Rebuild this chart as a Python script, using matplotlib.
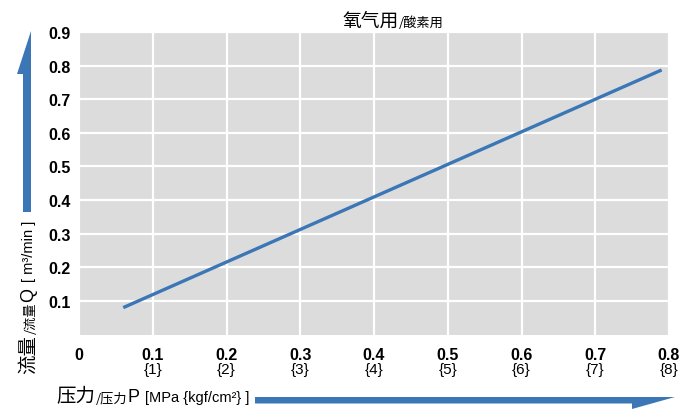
import matplotlib
matplotlib.use("Agg")
import matplotlib.pyplot as plt
from matplotlib.patches import Polygon
from matplotlib import font_manager

# data
pressure = [0.06, 0.79]          # MPa
flow = [0.08, 0.787]             # m3/min
x_ticks = [0, 0.1, 0.2, 0.3, 0.4, 0.5, 0.6, 0.7, 0.8]
x_tick_labels = ["0", "0.1", "0.2", "0.3", "0.4", "0.5", "0.6", "0.7", "0.8"]
kgf_labels = ["", "{1}", "{2}", "{3}", "{4}", "{5}", "{6}", "{7}", "{8}"]
y_ticks = [0.1, 0.2, 0.3, 0.4, 0.5, 0.6, 0.7, 0.8, 0.9]
y_tick_labels = ["0.1", "0.2", "0.3", "0.4", "0.5", "0.6", "0.7", "0.8", "0.9"]

names = {f.name for f in font_manager.fontManager.ttflist}
NARROW = "Liberation Sans Narrow" if "Liberation Sans Narrow" in names else "Liberation Sans"
CJK = ["Noto Sans CJK SC", "DejaVu Sans"]
JP = ["Noto Sans CJK JP", "DejaVu Sans"]
BLUE = "#3b76b6"

W, H = 698, 410
fig = plt.figure(figsize=(W / 100, H / 100), dpi=100)
renderer = fig.canvas.get_renderer()

def fx(px):
    return px / W

def fy(py):
    return 1 - py / H

left, right, top, bottom = 79, 669, 33, 335.5
ax = fig.add_axes([fx(left), fy(bottom), fx(right - left), (bottom - top) / H])
ax.set_facecolor("#dcdcdc")
ax.plot(pressure, flow, color=BLUE, lw=2.4, solid_capstyle="butt")
ax.set_xlim(0, 0.8)
ax.set_ylim(0, 0.9)
ax.set_xticks(x_ticks)
ax.set_yticks(y_ticks)
ax.set_xticklabels(x_tick_labels, family=NARROW, weight="bold", fontsize=11.5)
ax.set_yticklabels(y_tick_labels, family=NARROW, weight="bold", fontsize=11.5)
ax.tick_params(length=0, pad=9)
ax.tick_params(axis="y", pad=6)
ax.grid(True, color="white", lw=1.6)
ax.set_axisbelow(True)
for s in ax.spines.values():
    s.set_visible(False)

# second line of x tick labels {kgf/cm2}
for xv, lab in zip(x_ticks, kgf_labels):
    if lab:
        ax.text(xv, -(370 - bottom) / (bottom - top), lab,
                transform=ax.get_xaxis_transform(), ha="center", va="center",
                family=NARROW, fontsize=11)


def chain(pieces, start, along=0, vertical=False):
    """Place text pieces one after another; pieces = (text, family, size, offset, gap)."""
    pos = start
    for txt, fam, size, off, gap in pieces:
        if vertical:
            pos -= gap
            t = fig.text(fx(along + off), fy(pos), txt, family=fam, fontsize=size,
                         rotation=90, ha="center", va="bottom")
            bb = t.get_window_extent(renderer)
            pos = H - bb.y1
        else:
            pos += gap
            t = fig.text(fx(pos), fy(along + off), txt, family=fam, fontsize=size,
                         ha="left", va="center")
            bb = t.get_window_extent(renderer)
            pos = bb.x1


# title
chain([("氧气用", CJK, 13.5, 0, 0), ("/酸素用", JP, 9.5, 2, 1)], 342, along=21)

# x axis label
chain([("压力", CJK, 14, 0, 0), ("/压力", CJK, 9.5, 3, 1), ("P", NARROW, 13, 1, 0),
       ("[MPa {kgf/cm²} ]", NARROW, 10.5, 1, 5)], 56, along=397)

# y axis label (rotated, reading bottom to top)
chain([("流量", CJK, 14, 0, 0), ("/流量", CJK, 9.5, 3, 1), ("Q", NARROW, 13, 1, 0),
       ("[ m³/min ]", NARROW, 10.5, 1, 6)], 374, along=28, vertical=True)

# arrows
xarrow = [(255, 398), (675, 398), (632, 410), (632, 404.5), (255, 404.5)]
yarrow = [(23, 213), (31, 213), (31, 32), (17, 75), (23, 75)]
for pts in (xarrow, yarrow):
    fig.patches.append(Polygon([(fx(a), fy(b)) for a, b in pts], closed=True,
                               transform=fig.transFigure, color=BLUE, lw=0))

fig.savefig("out.png", dpi=100)
